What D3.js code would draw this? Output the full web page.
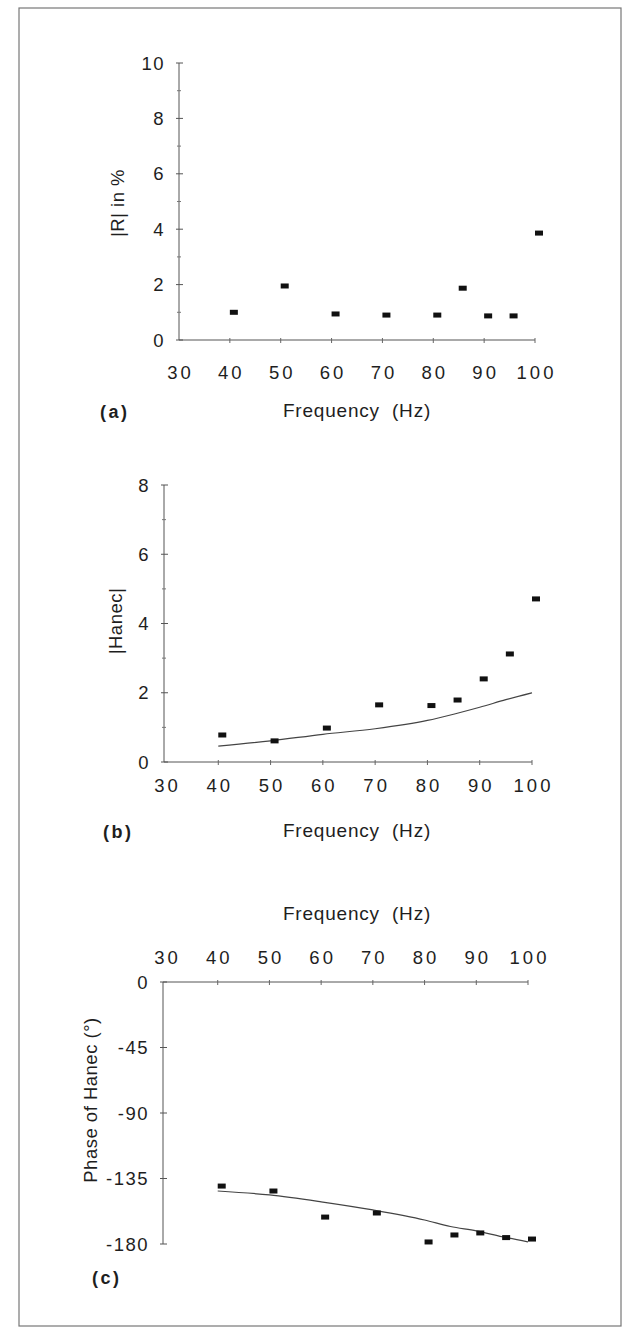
<!DOCTYPE html>
<html>
<head>
<meta charset="utf-8">
<script src="https://d3js.org/d3.v7.min.js"></script>
<style>
  body { margin: 0; background: #fff; }
  svg text { font-family: "Liberation Sans", Arial, sans-serif; fill: #1e1e1e; }
</style>
</head>
<body>
<svg id="fig" width="629" height="1330"></svg>
<script>
  // data
  const freqs = [40, 50, 60, 70, 80, 85, 90, 95, 100];
  const rPercent = [1.0, 1.95, 0.94, 0.9, 0.9, 1.87, 0.87, 0.87, 3.86];
  const hanecMeasured = [0.78, 0.61, 0.98, 1.65, 1.63, 1.79, 2.4, 3.12, 4.71];
  const hanecModel = [0.46, 0.61, 0.8, 0.96, 1.2, 1.38, 1.58, 1.8, 2.0];
  const phaseMeasured = [-140.2, -143.6, -161.5, -158.7, -178.6, -173.8, -172.4, -175.6, -176.6];
  const phaseModel = [-143.6, -146.3, -151, -156.6, -163.5, -168, -171, -175, -178.5];
  const freqTicks = [30, 40, 50, 60, 70, 80, 90, 100];

  let svg = d3.select("#fig");

  // scanned page frame
  svg.append("rect")
    .attr("x", 19).attr("y", 8)
    .attr("width", 602).attr("height", 1318)
    .attr("fill", "none")
    .attr("stroke", "#777")
    .attr("stroke-width", 1.2);

  function panel(cfg) {
    let x = d3.scaleLinear().domain([30, 100]).range(cfg.xr);
    let y = d3.scaleLinear().domain(cfg.yd).range(cfg.yr);
    let g = svg.append("g");
    let axisY = cfg.top ? cfg.yr[1] : cfg.yr[0];

    // x axis line and ticks
    g.append("line")
      .attr("x1", cfg.ax).attr("x2", x(100))
      .attr("y1", axisY).attr("y2", axisY)
      .attr("stroke", "#555");
    g.selectAll(".xt").data(freqTicks.slice(1)).join("line")
      .attr("x1", d => x(d)).attr("x2", d => x(d))
      .attr("y1", axisY - 2).attr("y2", axisY + 3)
      .attr("stroke", "#666");
    g.selectAll(".xl").data(freqTicks).join("text")
      .attr("x", d => x(d) + 1.5)
      .attr("y", cfg.xlabY)
      .attr("text-anchor", "middle")
      .attr("dominant-baseline", "central")
      .attr("font-size", 18.5)
      .attr("letter-spacing", 3)
      .text(d => d);

    // y axis
    g.append("line")
      .attr("x1", cfg.ax).attr("x2", cfg.ax)
      .attr("y1", y(cfg.yd[0])).attr("y2", y(cfg.yd[1]))
      .attr("stroke", "#555");
    g.selectAll(".ym").data(cfg.minor).join("line")
      .attr("x1", cfg.ax - 2).attr("x2", cfg.ax + 2)
      .attr("y1", d => y(d)).attr("y2", d => y(d))
      .attr("stroke", "#777");
    g.selectAll(".yt").data(cfg.major).join("line")
      .attr("x1", cfg.ax - 3).attr("x2", cfg.ax + 4)
      .attr("y1", d => y(d)).attr("y2", d => y(d))
      .attr("stroke", "#555");
    g.selectAll(".yl").data(cfg.major).join("text")
      .attr("x", cfg.ax - 14)
      .attr("y", d => y(d))
      .attr("text-anchor", "end")
      .attr("dominant-baseline", "central")
      .attr("font-size", 18.5)
      .attr("letter-spacing", 1.5)
      .text(d => d);

    // rotated y title
    g.append("text")
      .attr("transform", `translate(${cfg.ytX},${cfg.ytY}) rotate(-90)`)
      .attr("text-anchor", "middle")
      .attr("dominant-baseline", "central")
      .attr("font-size", 18.5)
      .attr("letter-spacing", 0.5)
      .text(cfg.ytitle);

    // x title
    g.append("text")
      .attr("x", 357).attr("y", cfg.xtY)
      .attr("text-anchor", "middle")
      .attr("dominant-baseline", "central")
      .attr("font-size", 19)
      .attr("letter-spacing", 0.8)
      .attr("word-spacing", 6)
      .text("Frequency (Hz)");

    // panel letter
    g.append("text")
      .attr("x", cfg.letter[0]).attr("y", cfg.letter[1])
      .attr("dominant-baseline", "central")
      .attr("font-size", 18)
      .attr("font-weight", "bold")
      .attr("letter-spacing", 2.5)
      .text(cfg.letter[2]);

    // model curve
    if (cfg.model) {
      g.append("path")
        .datum(freqs.map((f, i) => [f, cfg.model[i]]))
        .attr("fill", "none")
        .attr("stroke", "#444")
        .attr("stroke-width", 1.2)
        .attr("d", d3.line().x(d => x(d[0])).y(d => y(d[1])).curve(d3.curveMonotoneX));
    }

    // measured points
    g.selectAll(".pt").data(freqs.map((f, i) => [f, cfg.meas[i]])).join("rect")
      .attr("x", d => x(d[0]))
      .attr("y", d => y(d[1]) - 2.5)
      .attr("width", 8).attr("height", 5)
      .attr("fill", "#111");
  }

  panel({
    xr: [179, 535], yd: [0, 10], yr: [340, 63], ax: 179,
    major: [0, 2, 4, 6, 8, 10], minor: [1, 3, 5, 7, 9],
    xlabY: 372, xtY: 410, ytX: 117, ytY: 203, ytitle: "|R| in %",
    letter: [100, 412, "(a)"], meas: rPercent
  });

  panel({
    xr: [166, 532], yd: [0, 8], yr: [762, 485], ax: 164,
    major: [0, 2, 4, 6, 8], minor: [1, 3, 5, 7],
    xlabY: 785, xtY: 830, ytX: 115, ytY: 621, ytitle: "|Hanec|",
    letter: [103, 832, "(b)"], meas: hanecMeasured, model: hanecModel
  });

  panel({
    xr: [166, 528], yd: [-180, 0], yr: [1244, 982], ax: 163, top: true,
    major: [0, -45, -90, -135, -180], minor: [],
    xlabY: 957, xtY: 913, ytX: 90, ytY: 1100, ytitle: "Phase of Hanec (°)",
    letter: [92, 1278, "(c)"], meas: phaseMeasured, model: phaseModel
  });
</script>
</body>
</html>
